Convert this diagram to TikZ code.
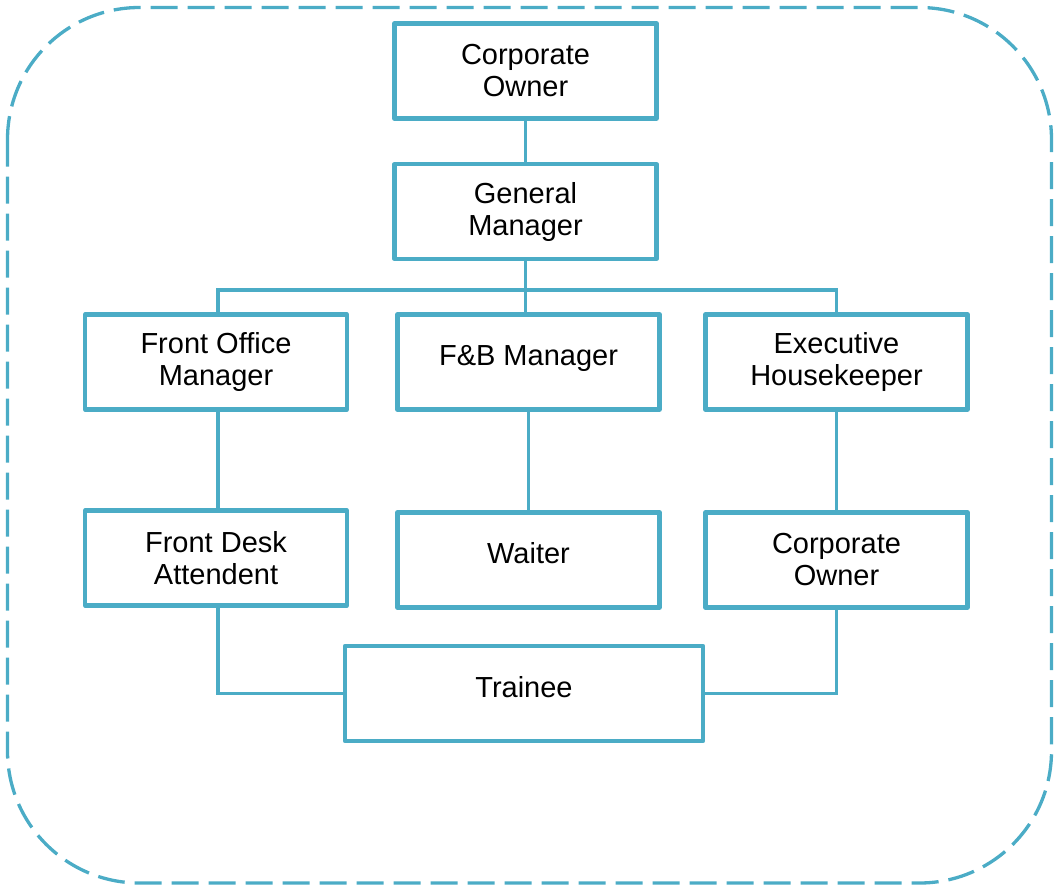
\documentclass[tikz,border=0pt]{standalone}
\usepackage{fontspec}
\setmainfont{Liberation Sans}
\definecolor{acc}{RGB}{75,172,198}
\begin{document}
\begin{tikzpicture}[x=1pt,y=-1pt,
  box/.style={draw=acc, line width=4.2pt, line join=round, fill=white,
    minimum width=262pt, minimum height=95pt, inner sep=0pt, align=center,
    font=\fontsize{29}{32}\selectfont},
  oneline/.style={text height=22pt, text depth=15pt},
  link/.style={draw=acc, line width=3.7pt}]
\useasboundingbox (0,0) rectangle (1058,887);
\draw[draw=acc, line width=3.3pt, dash pattern=on 27pt off 10pt, rounded corners=132pt]
  (7.5,7.5) rectangle (1051.5,883);
\coordinate (j) at (525.5,290);
\node[box] (co) at (525.5,71) {Corporate\\Owner};
\node[box] (gm) at (525.5,211.5) {General\\Manager};
\node[box] (fom) at (216,362) {Front Office\\Manager};
\node[box,oneline] (fb) at (528.5,362) {F\&B Manager};
\node[box] (eh) at (836.5,362) {Executive\\Housekeeper};
\node[box] (fda) at (216,558) {Front Desk\\Attendent};
\node[box,oneline] (wt) at (528.5,560) {Waiter};
\node[box] (co2) at (836.5,560) {Corporate\\Owner};
\node[box,oneline, minimum width=358pt] (tr) at (524,693.5) {Trainee};
\path[link] (co.south) -- (gm.north);
\path[link] (gm.south) -- (gm.south |- fb.north);
\path[link] (fom.north -| 218,0) |- (j) -| (eh.north);
\path[link] (fom.south -| 218,0) -- (fda.north -| 218,0);
\path[link] (fb.south) -- (wt.north);
\path[link] (eh.south) -- (co2.north);
\path[link] (fda.south -| 218,0) |- (tr.west);
\path[link] (co2.south) |- (tr.east);
\end{tikzpicture}
\end{document}
